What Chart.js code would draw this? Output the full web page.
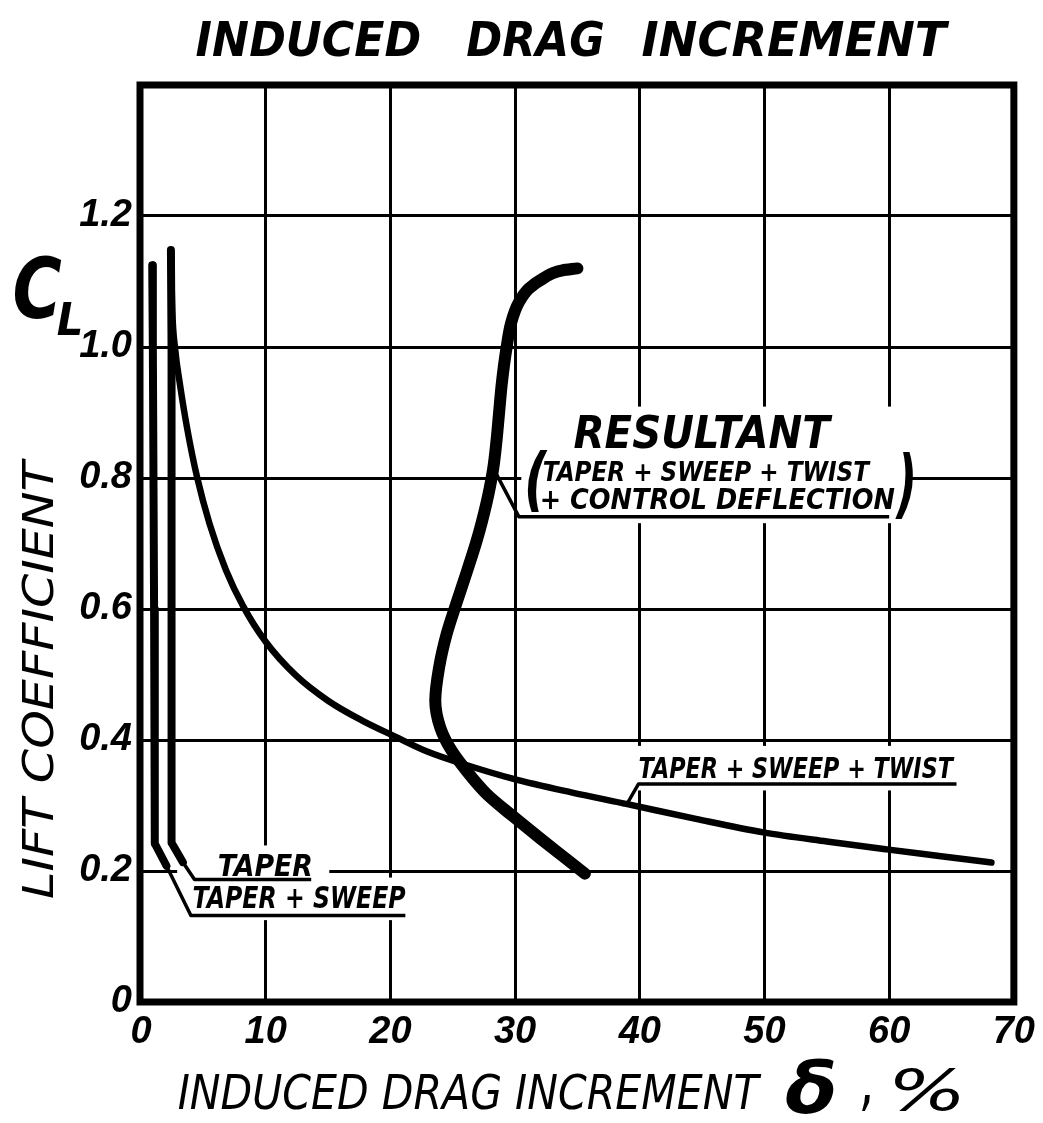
<!DOCTYPE html>
<html><head><meta charset="utf-8">
<script src="https://cdn.jsdelivr.net/npm/chart.js@4.4.1/dist/chart.umd.min.js"></script>
<style>html,body{margin:0;padding:0;background:#fff;}canvas{display:block;}</style>
</head><body>
<canvas id="c" width="1043" height="1123"></canvas>
<script>
// ---- data ----
const xTickLabels = ['0','10','20','30','40','50','60','70'];
const yTickLabels = ['0','0.2','0.4','0.6','0.8','1.0','1.2',''];
const seriesNames = ['TAPER + SWEEP','TAPER','TAPER + SWEEP + TWIST','RESULTANT'];

const taperSweepX = [0.9, 0.95, 1.0, 1.05, 1.1, 1.11, 2.04];
const taperSweepY = [1.125, 1.0, 0.8, 0.6, 0.4, 0.242, 0.208];

const taperX = [2.4, 2.45, 2.45, 2.45, 2.45, 3.36];
const taperY = [1.148, 1.0, 0.8, 0.5, 0.243, 0.2135];

const twistX = [2.4, 2.5, 2.75, 3.1, 3.7, 4.5, 5.5, 6.8, 8.2, 10.0, 12.4, 15.0, 17.7, 20.3, 23.0, 25.9, 29.8, 34.5, 39.0, 44.5, 49.9, 55.0, 59.8, 64.0, 68.2];
const twistY = [1.148, 1.06, 0.995, 0.946, 0.876, 0.801, 0.730, 0.660, 0.604, 0.550, 0.499, 0.460, 0.430, 0.406, 0.382, 0.363, 0.341, 0.320, 0.302, 0.2795, 0.259, 0.245, 0.233, 0.223, 0.213];

const resultantX = [35.0, 33.8, 32.2, 31.1, 30.3, 29.7, 29.3, 28.95, 28.7, 28.5, 28.25, 27.85, 27.35, 26.9, 26.15, 25.35, 24.5, 23.9, 23.6, 24.0, 24.9, 26.1, 27.7, 29.8, 32.0, 34.0, 35.6];
const resultantY = [1.12, 1.117, 1.104, 1.089, 1.068, 1.038, 0.997, 0.947, 0.896, 0.855, 0.815, 0.774, 0.734, 0.703, 0.658, 0.612, 0.561, 0.510, 0.460, 0.419, 0.384, 0.353, 0.318, 0.284, 0.250, 0.220, 0.196];

const resLeaderX = [28.25, 30.3, 60.0];
const resLeaderY = [0.815, 0.741, 0.741];
const twistLeaderX = [38.9, 39.9, 65.4];
const twistLeaderY = [0.300, 0.333, 0.333];
const taperLeaderX = [3.36, 4.29, 13.65];
const taperLeaderY = [0.2135, 0.187, 0.187];
const taperSweepLeaderX = [2.04, 4.0, 21.2];
const taperSweepLeaderY = [0.208, 0.132, 0.132];

const zip = (xs, ys) => xs.map((x, i) => ({x: x, y: ys[i]}));

function fitText(ctx, text, cx, cy, w, h, font) {
  ctx.save();
  ctx.font = font;
  ctx.textAlign = 'left';
  ctx.textBaseline = 'alphabetic';
  const m = ctx.measureText(text);
  const bw = m.actualBoundingBoxLeft + m.actualBoundingBoxRight;
  const bh = m.actualBoundingBoxAscent + m.actualBoundingBoxDescent;
  ctx.translate(cx - w / 2, cy - h / 2);
  ctx.scale(w / bw, h / bh);
  ctx.fillStyle = '#000';
  ctx.fillText(text, m.actualBoundingBoxLeft, m.actualBoundingBoxAscent);
  ctx.restore();
}

const BOLD = 'italic bold 100px "DejaVu Sans"';
const BOOK = 'italic 100px "DejaVu Sans"';

const decor = {
  id: 'decor',
  beforeDatasetsDraw(chart) {
    const ctx = chart.ctx, xs = chart.scales.x, ys = chart.scales.y, a = chart.chartArea;
    const X = v => xs.getPixelForValue(v), Y = v => ys.getPixelForValue(v);
    ctx.save();
    ctx.fillStyle = '#fff';
    [[30.5, 61.4, 0.909, 0.731], [39.6, 65.8, 0.391, 0.323], [2.9, 15.1, 0.239, 0.125], [15.1, 21.8, 0.19, 0.125]]
      .forEach(b => ctx.fillRect(X(b[0]), Y(b[2]), X(b[1]) - X(b[0]), Y(b[3]) - Y(b[2])));
    ctx.strokeStyle = '#000';
    ctx.lineWidth = 7;
    ctx.strokeRect(a.left - 1, a.top, a.right - a.left + 1, a.bottom - a.top);
    ctx.restore();
  },
  afterDatasetsDraw(chart) {
    const ctx = chart.ctx, xs = chart.scales.x, ys = chart.scales.y;
    const X = v => xs.getPixelForValue(v), Y = v => ys.getPixelForValue(v);
    fitText(ctx, 'RESULTANT', X(45.1), Y(0.871), 258, 34, BOLD);
    fitText(ctx, 'TAPER + SWEEP + TWIST', X(45.4), Y(0.810), 327, 20, BOLD);
    fitText(ctx, '+ CONTROL DEFLECTION', X(46.3), Y(0.768), 352, 21, BOLD);
    fitText(ctx, '(', X(31.8), Y(0.796), 20, 62, BOLD);
    fitText(ctx, ')', X(61.2), Y(0.788), 18, 66, BOLD);
    fitText(ctx, 'TAPER + SWEEP + TWIST', X(52.6), Y(0.359), 315, 22, BOLD);
    fitText(ctx, 'TAPER', X(9.92), Y(0.210), 92, 23, BOLD);
    fitText(ctx, 'TAPER + SWEEP', X(12.7), Y(0.160), 212, 23, BOLD);
    fitText(ctx, 'INDUCED', 308, 38, 223, 36, BOLD);
    fitText(ctx, 'DRAG', 535, 38, 136, 36, BOLD);
    fitText(ctx, 'INCREMENT', 796, 38, 307, 36, BOLD);
    fitText(ctx, 'INDUCED DRAG INCREMENT', 470, 1091, 583, 37, BOOK);
    fitText(ctx, 'δ', 810, 1086, 48, 56, BOLD);
    fitText(ctx, ',', 866, 1103, 8, 16, BOLD);
    fitText(ctx, '%', 927, 1090, 64, 43, BOOK);
    ctx.save();
    ctx.translate(37, 678);
    ctx.rotate(-Math.PI / 2);
    fitText(ctx, 'LIFT COEFFICIENT', 0, 0, 440, 33, BOOK);
    ctx.restore();
    fitText(ctx, 'C', 38, 287, 47, 63, BOLD);
    fitText(ctx, 'L', 69, 319, 23, 32, BOLD);
  }
};

const common = {borderColor: '#000', pointRadius: 0, borderCapStyle: 'round', borderJoinStyle: 'round', fill: false};

new Chart(document.getElementById('c'), {
  type: 'line',
  data: {
    datasets: [
      Object.assign({label: seriesNames[3], data: zip(resultantX, resultantY), indexAxis: 'y', cubicInterpolationMode: 'monotone', borderWidth: 12}, common),
      Object.assign({label: seriesNames[2], data: zip(twistX, twistY), cubicInterpolationMode: 'monotone', borderWidth: 6.5}, common),
      Object.assign({label: seriesNames[1], data: zip(taperX, taperY), tension: 0, borderWidth: 8}, common),
      Object.assign({label: seriesNames[0], data: zip(taperSweepX, taperSweepY), tension: 0, borderWidth: 8}, common),
      Object.assign({label: 'leader', data: zip(resLeaderX, resLeaderY), tension: 0, borderWidth: 3.5}, common, {borderCapStyle: 'butt'}),
      Object.assign({label: 'leader', data: zip(twistLeaderX, twistLeaderY), tension: 0, borderWidth: 3.5}, common, {borderCapStyle: 'butt'}),
      Object.assign({label: 'leader', data: zip(taperLeaderX, taperLeaderY), tension: 0, borderWidth: 3.5}, common, {borderCapStyle: 'butt'}),
      Object.assign({label: 'leader', data: zip(taperSweepLeaderX, taperSweepLeaderY), tension: 0, borderWidth: 3.5}, common, {borderCapStyle: 'butt'})
    ]
  },
  options: {
    responsive: false,
    animation: false,
    devicePixelRatio: 1,
    layout: {padding: {top: 85, right: 20, left: 0, bottom: 0}},
    plugins: {legend: {display: false}, tooltip: {enabled: false}, title: {display: false}},
    scales: {
      x: {
        type: 'linear', min: 0, max: 70,
        afterFit: s => { s.height = 121; },
        border: {display: false},
        grid: {color: '#000', lineWidth: 3, drawTicks: false},
        ticks: {
          stepSize: 10, padding: 8, color: '#000',
          font: {family: '"Liberation Sans"', size: 38, weight: 'bold', style: 'italic'},
          callback: v => xTickLabels[Math.round(v / 10)]
        }
      },
      y: {
        type: 'linear', min: 0, max: 1.4,
        afterFit: s => { s.width = 141; },
        border: {display: false},
        grid: {color: '#000', lineWidth: 3, drawTicks: false},
        ticks: {
          stepSize: 0.2, padding: 9, color: '#000',
          font: {family: '"Liberation Sans"', size: 38, weight: 'bold', style: 'italic'},
          callback: v => yTickLabels[Math.round(v / 0.2)]
        }
      }
    }
  },
  plugins: [decor]
});
</script>
</body></html>
